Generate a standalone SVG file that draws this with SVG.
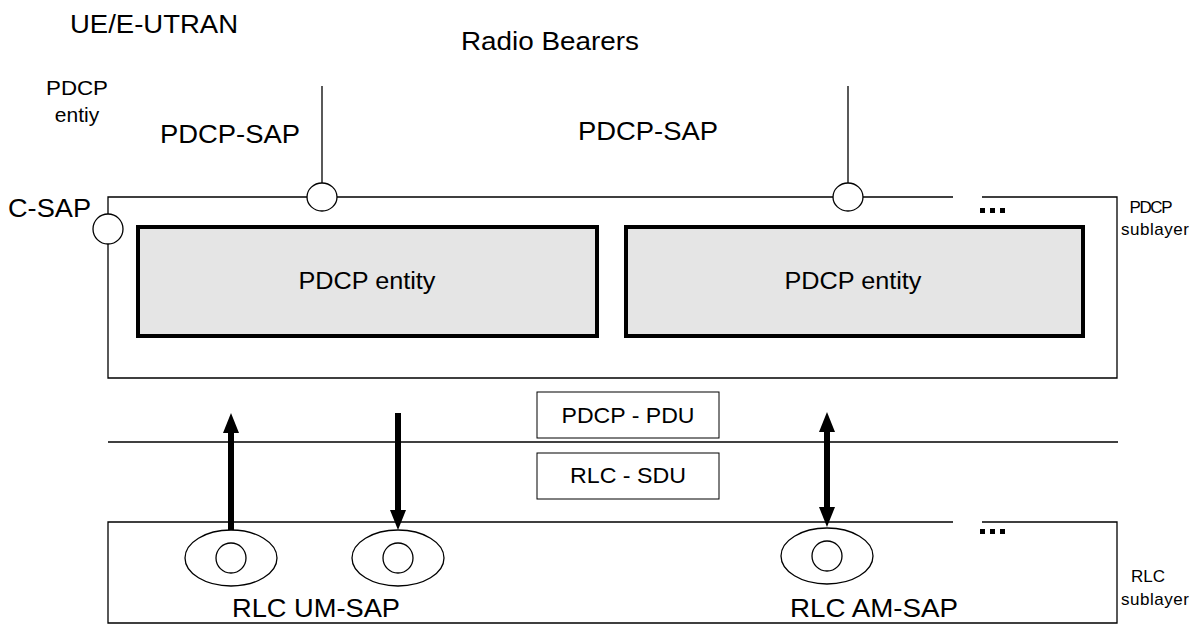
<svg xmlns="http://www.w3.org/2000/svg" width="1190" height="626" viewBox="0 0 1190 626">
<style>
  text { font-family: "Liberation Sans", Arial, sans-serif; fill: #000; }
  .big { font-size: 25px; }
  .mid { font-size: 23px; }
  .sm { font-size: 21px; }
  .pl { font-size: 22px; }
  .tiny { font-size: 17px; }
  .thin { fill: none; stroke: #000; stroke-width: 1.3; }
  .sap { fill: #fff; stroke: #000; stroke-width: 1.3; }
  .ent { fill: #e5e5e5; stroke: #000; stroke-width: 4; }
  .pdu { fill: #fff; stroke: #000; stroke-width: 1; }
  .arr { stroke: #000; stroke-width: 6; fill: none; }
  .dot { fill: #000; }
</style>
<defs>
  <marker id="ah" markerUnits="userSpaceOnUse" viewBox="0 0 20 16" markerWidth="20" markerHeight="16" refX="2" refY="8" orient="auto-start-reverse">
    <path d="M0,0 L20,8 L0,16 Z" fill="#000"/>
  </marker>
</defs>

<g id="titles">
  <text class="big" x="70" y="33" textLength="168" lengthAdjust="spacingAndGlyphs">UE/E-UTRAN</text>
  <text class="big" x="550" y="50" text-anchor="middle" textLength="178" lengthAdjust="spacingAndGlyphs">Radio Bearers</text>
  <text class="sm" x="77" y="95" text-anchor="middle" textLength="62" lengthAdjust="spacingAndGlyphs">PDCP</text>
  <text class="sm" x="77" y="122" text-anchor="middle">entiy</text>
</g>

<g id="pdcp-sublayer">
  <path class="thin" d="M953,197 H108 V214 M108,244 V378 H1117 V197 H982"/>
  <text class="tiny" x="1151" y="213" text-anchor="middle" textLength="43" lengthAdjust="spacing">PDCP</text>
  <text class="tiny" x="1155" y="235" text-anchor="middle" textLength="68" lengthAdjust="spacing">sublayer</text>
  <rect class="dot" x="980" y="208" width="5" height="5"/>
  <rect class="dot" x="990" y="208" width="5" height="5"/>
  <rect class="dot" x="1000" y="208" width="5" height="5"/>
</g>

<g id="c-sap">
  <ellipse class="sap" cx="108" cy="229" rx="15" ry="15"/>
  <text class="big" x="8" y="217" textLength="83" lengthAdjust="spacingAndGlyphs">C-SAP</text>
</g>

<g id="pdcp-sap-1">
  <line class="thin" x1="322" y1="86" x2="322" y2="183"/>
  <ellipse class="sap" cx="322" cy="197" rx="15" ry="14"/>
  <text class="big" x="160" y="143" textLength="140" lengthAdjust="spacingAndGlyphs">PDCP-SAP</text>
</g>

<g id="pdcp-sap-2">
  <line class="thin" x1="848" y1="86" x2="848" y2="183"/>
  <ellipse class="sap" cx="848" cy="197" rx="15" ry="14"/>
  <text class="big" x="578" y="140" textLength="140" lengthAdjust="spacingAndGlyphs">PDCP-SAP</text>
</g>

<g id="pdcp-entity-1">
  <rect class="ent" x="138" y="227" width="459" height="109"/>
  <text class="mid" x="367" y="289" text-anchor="middle" textLength="137" lengthAdjust="spacingAndGlyphs">PDCP entity</text>
</g>

<g id="pdcp-entity-2">
  <rect class="ent" x="626" y="227" width="457" height="109"/>
  <text class="mid" x="853" y="289" text-anchor="middle" textLength="137" lengthAdjust="spacingAndGlyphs">PDCP entity</text>
</g>

<g id="boundary">
  <line class="thin" x1="108" y1="442" x2="1118" y2="442"/>
</g>

<g id="pdcp-pdu">
  <rect class="pdu" x="537" y="392" width="182" height="46"/>
  <text class="pl" x="628" y="423" text-anchor="middle" textLength="133" lengthAdjust="spacingAndGlyphs">PDCP - PDU</text>
</g>

<g id="rlc-sdu">
  <rect class="pdu" x="537" y="453" width="182" height="46"/>
  <text class="pl" x="628" y="483" text-anchor="middle" textLength="116" lengthAdjust="spacingAndGlyphs">RLC - SDU</text>
</g>

<g id="rlc-sublayer">
  <path class="thin" d="M953,522 H108 V623 H1117 V522 H982"/>
  <rect class="dot" x="980" y="529" width="5" height="5"/>
  <rect class="dot" x="990" y="529" width="5" height="5"/>
  <rect class="dot" x="1000" y="529" width="5" height="5"/>
  <text class="tiny" x="1148" y="582" text-anchor="middle">RLC</text>
  <text class="tiny" x="1155" y="605" text-anchor="middle" textLength="68" lengthAdjust="spacing">sublayer</text>
</g>

<g id="rlc-um-sap-1">
  <ellipse class="sap" cx="231" cy="558" rx="46" ry="28"/>
  <circle class="sap" cx="231" cy="558" r="15"/>
</g>
<g id="rlc-um-sap-2">
  <ellipse class="sap" cx="398" cy="558" rx="46" ry="28"/>
  <circle class="sap" cx="398" cy="558" r="15"/>
</g>
<g id="rlc-um-label">
  <text class="big" x="316" y="617" text-anchor="middle" textLength="168" lengthAdjust="spacingAndGlyphs">RLC UM-SAP</text>
</g>

<g id="rlc-am-sap">
  <ellipse class="sap" cx="827" cy="556" rx="46" ry="28"/>
  <circle class="sap" cx="827" cy="556" r="15"/>
  <text class="big" x="874" y="617" text-anchor="middle" textLength="168" lengthAdjust="spacingAndGlyphs">RLC AM-SAP</text>
</g>

<g id="connectors">
  <line class="arr" x1="231" y1="530" x2="231" y2="431" marker-end="url(#ah)"/>
  <line class="arr" x1="398" y1="413" x2="398" y2="512" marker-end="url(#ah)"/>
  <line class="arr" x1="827" y1="430" x2="827" y2="509" marker-start="url(#ah)" marker-end="url(#ah)"/>
</g>
</svg>
